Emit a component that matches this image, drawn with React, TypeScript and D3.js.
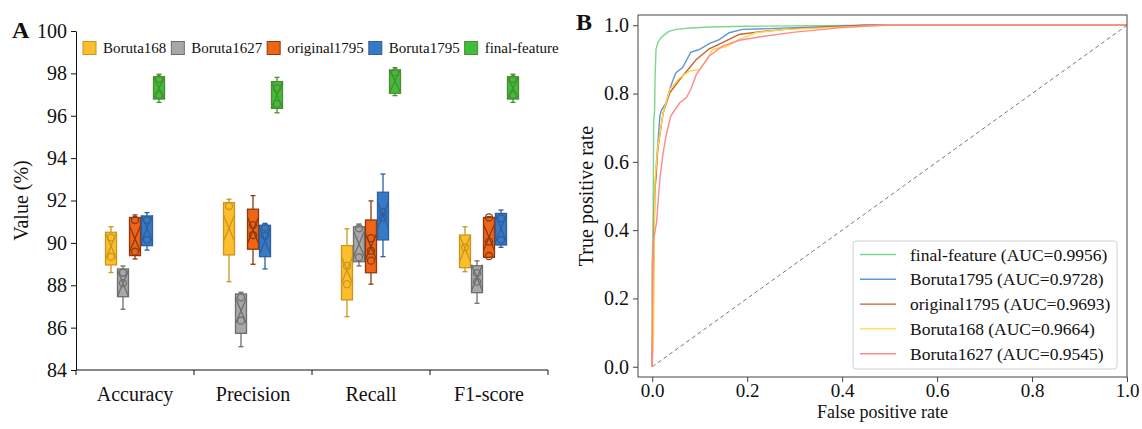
import { useEffect, useRef } from 'react';
import * as d3 from 'd3';

document.body.style.margin = '0';

const FONT = '"Liberation Serif", "Times New Roman", serif';
const W = 1142;
const H = 429;

// ---- Panel A data ----
const categories = ['Accuracy', 'Precision', 'Recall', 'F1-score'];
const groups = ['Boruta168', 'Boruta1627', 'original1795', 'Boruta1795', 'final-feature'];
const yTicksA = [84, 86, 88, 90, 92, 94, 96, 98, 100];

// [whiskerLow, q1, median, q3, whiskerHigh] per category
const boruta168Boxes = [
  [88.6, 88.96, 89.85, 90.5, 90.76],
  [88.17, 89.43, 90.69, 91.9, 92.06],
  [86.52, 87.31, 88.72, 89.87, 90.66],
  [88.64, 88.83, 89.74, 90.37, 90.76],
];
const boruta1627Boxes = [
  [86.87, 87.46, 88.09, 88.77, 88.91],
  [85.1, 85.73, 86.8, 87.59, 87.67],
  [88.91, 89.11, 89.95, 90.76, 90.89],
  [87.15, 87.65, 88.36, 88.92, 89.15],
];
const original1795Boxes = [
  [89.24, 89.4, 90.2, 91.2, 91.32],
  [88.99, 89.7, 90.6, 91.59, 92.23],
  [88.05, 88.59, 89.82, 91.08, 91.98],
  [89.32, 89.32, 90.26, 91.2, 91.24],
];
const boruta1795Boxes = [
  [89.66, 89.87, 90.69, 91.27, 91.43],
  [88.77, 89.35, 90.09, 90.83, 90.92],
  [89.35, 90.14, 91.32, 92.39, 93.25],
  [89.79, 89.9, 90.69, 91.39, 91.55],
];
const finalBoxes = [
  [96.63, 96.79, 97.3, 97.84, 97.96],
  [96.14, 96.35, 96.98, 97.61, 97.81],
  [96.95, 97.06, 97.64, 98.16, 98.27],
  [96.63, 96.79, 97.3, 97.84, 97.96],
];

// circles drawn inside the boxes
const boruta168Points = [[90.25, 89.35], [91.74], [88.91, 88.05], [89.79]];
const boruta1627Points = [[88.6, 88.1], [87.43, 86.33], [90.69, 89.32], [88.57, 88.17]];
const original1795Points = [[91.08, 89.58], [90.84, 90.37], [90.22, 89.63, 89.16], [91.2, 90.06, 89.38]];
const boruta1795Points = [[91.08, 90.14], [90.73, 90.33], [91.45, 91.2], [91.16, 90.14]];
const finalPoints = [[97.73, 96.98], [97.3, 96.56], [98.05], [97.73, 96.98]];

const boxData = [boruta168Boxes, boruta1627Boxes, original1795Boxes, boruta1795Boxes, finalBoxes];
const pointData = [boruta168Points, boruta1627Points, original1795Points, boruta1795Points, finalPoints];
const boxFill = ['#FDBE2C', '#A8A7A9', '#EF6417', '#3679C5', '#3DBE3D'];
const boxEdge = ['#C9961E', '#6E6E6E', '#8A3A10', '#2F5E9E', '#4E8A2E'];

// ---- Panel B data ----
const rocNames = [
  'final-feature (AUC=0.9956)',
  'Boruta1795 (AUC=0.9728)',
  'original1795 (AUC=0.9693)',
  'Boruta168 (AUC=0.9664)',
  'Boruta1627 (AUC=0.9545)',
];
const rocColors = ['#7ED68C', '#5B98D6', '#C8602E', '#FFD448', '#FF8A8A'];
const xTicksB = [0, 0.2, 0.4, 0.6, 0.8, 1.0];
const yTicksB = [0, 0.2, 0.4, 0.6, 0.8, 1.0];

const rocFinal: [number, number][] = [
  [0, 0], [0, 0.3], [0.002, 0.45], [0.003, 0.72], [0.005, 0.75], [0.006, 0.85], [0.008, 0.93],
  [0.012, 0.95], [0.018, 0.962], [0.025, 0.972], [0.035, 0.982], [0.05, 0.988], [0.08, 0.992],
  [0.12, 0.995], [0.2, 0.997], [0.35, 0.999], [0.45, 1], [1, 1],
];
const roc1795: [number, number][] = [
  [0, 0], [0.002, 0.22], [0.004, 0.4], [0.005, 0.5], [0.009, 0.6], [0.012, 0.656], [0.016, 0.734],
  [0.019, 0.75], [0.029, 0.773], [0.039, 0.822], [0.05, 0.861], [0.064, 0.876], [0.081, 0.921],
  [0.099, 0.929], [0.12, 0.946], [0.141, 0.958], [0.162, 0.978], [0.19, 0.988], [0.246, 0.99],
  [0.3, 0.993], [0.45, 1], [1, 1],
];
const rocOriginal: [number, number][] = [
  [0, 0], [0.002, 0.28], [0.004, 0.4], [0.005, 0.5], [0.012, 0.64], [0.023, 0.744], [0.037, 0.802],
  [0.058, 0.841], [0.076, 0.871], [0.093, 0.9], [0.12, 0.931], [0.148, 0.949], [0.183, 0.973],
  [0.232, 0.982], [0.3, 0.99], [0.45, 1], [1, 1],
];
const roc168: [number, number][] = [
  [0, 0], [0.003, 0.1], [0.004, 0.35], [0.006, 0.55], [0.012, 0.646], [0.023, 0.744], [0.037, 0.812],
  [0.058, 0.846], [0.079, 0.866], [0.099, 0.87], [0.116, 0.9], [0.127, 0.929], [0.155, 0.937],
  [0.183, 0.958], [0.218, 0.978], [0.281, 0.988], [0.5, 1], [1, 1],
];
const roc1627: [number, number][] = [
  [0, 0], [0, 0.276], [0.002, 0.364], [0.009, 0.422], [0.016, 0.549], [0.023, 0.627], [0.029, 0.676],
  [0.039, 0.734], [0.058, 0.773], [0.072, 0.788], [0.081, 0.812], [0.093, 0.856], [0.12, 0.91],
  [0.148, 0.939], [0.183, 0.956], [0.232, 0.967], [0.3, 0.98], [0.4, 0.993], [0.48, 1], [1, 1],
];
const rocData = [rocFinal, roc1795, rocOriginal, roc168, roc1627];

export default function App() {
  const svgRef = useRef<SVGSVGElement>(null);

  useEffect(() => {
    const svg = d3.select(svgRef.current);
    svg.selectAll('*').remove();
    svg.style('font-family', FONT);

    // ================= Panel A =================
    const x = d3.scaleBand().domain(categories).range([76, 548]).padding(0);
    const y = d3.scaleLinear().domain([84, 100]).range([370, 31]);
    const gA = svg.append('g');

    const yAxis = gA.append('g').attr('transform', 'translate(76,0)')
      .call(d3.axisLeft(y).tickValues(yTicksA).tickSize(5).tickPadding(4).tickSizeOuter(0));
    yAxis.selectAll('text').attr('font-size', 20).attr('font-family', FONT).attr('fill', '#111');
    yAxis.selectAll('line, path').attr('stroke', '#111');

    // x axis with ticks on band edges
    gA.append('line').attr('x1', 76).attr('x2', 548).attr('y1', y(84)).attr('y2', y(84)).attr('stroke', '#111');
    const edges = [...categories.map(c => x(c)!), x(categories[categories.length - 1])! + x.bandwidth()];
    gA.selectAll('.xt').data(edges).join('line')
      .attr('x1', d => d).attr('x2', d => d).attr('y1', y(84)).attr('y2', y(84) + 5).attr('stroke', '#111');
    gA.selectAll('.xl').data(categories).join('text')
      .attr('x', d => x(d)! + x.bandwidth() / 2).attr('y', y(84) + 31)
      .attr('text-anchor', 'middle').attr('font-size', 20).attr('fill', '#111').text(d => d);

    gA.append('text').attr('transform', `translate(28,${(y(84) + y(100)) / 2}) rotate(-90)`)
      .attr('text-anchor', 'middle').attr('font-size', 20).attr('fill', '#111').text('Value (%)');
    gA.append('text').attr('x', 12).attr('y', 38).attr('font-size', 24).attr('font-weight', 'bold')
      .attr('fill', '#111').text('A');

    const boxW = 11;
    const step = 12;
    groups.forEach((g, gi) => {
      categories.forEach((c, ci) => {
        const [lo, q1, med, q3, hi] = boxData[gi][ci];
        const cx = x(c)! + x.bandwidth() / 2 + (gi - 2) * step;
        const left = cx - boxW / 2;
        const right = cx + boxW / 2;
        const grp = gA.append('g');
        const edge = boxEdge[gi];
        // whiskers
        grp.append('line').attr('x1', cx).attr('x2', cx).attr('y1', y(q3)).attr('y2', y(hi)).attr('stroke', edge).attr('stroke-width', 1.3);
        grp.append('line').attr('x1', cx).attr('x2', cx).attr('y1', y(q1)).attr('y2', y(lo)).attr('stroke', edge).attr('stroke-width', 1.3);
        [lo, hi].forEach(v => grp.append('line').attr('x1', cx - 2.5).attr('x2', cx + 2.5)
          .attr('y1', y(v)).attr('y2', y(v)).attr('stroke', edge).attr('stroke-width', 1.3));
        // box
        grp.append('rect').attr('x', left).attr('y', y(q3)).attr('width', boxW).attr('height', y(q1) - y(q3))
          .attr('fill', boxFill[gi]).attr('stroke', edge).attr('stroke-width', 1.3);
        // notch cross
        const half = Math.min((y(q1) - y(q3)) / 2, 13);
        const ym = y(med);
        grp.append('path')
          .attr('d', `M${left},${ym - half}L${right},${ym + half}M${right},${ym - half}L${left},${ym + half}`)
          .attr('stroke', edge).attr('stroke-width', 1.3).attr('fill', 'none');
        // points
        pointData[gi][ci].forEach(v => grp.append('circle').attr('cx', cx).attr('cy', y(v)).attr('r', 3.5)
          .attr('fill', 'none').attr('stroke', edge).attr('stroke-width', 1.3));
      });
    });

    // legend A
    const legA = gA.append('g').attr('transform', 'translate(83,48)');
    let lx = 0;
    groups.forEach((g, gi) => {
      legA.append('rect').attr('x', lx).attr('y', -6.5).attr('width', 13).attr('height', 13)
        .attr('fill', boxFill[gi]).attr('stroke', boxEdge[gi]).attr('stroke-width', 1);
      const t = legA.append('text').attr('x', lx + 20).attr('y', 5).attr('font-size', 15).attr('fill', '#111').text(g);
      const tw = (t.node() as SVGTextElement).getComputedTextLength();
      lx += 20 + tw + 5;
    });

    // ================= Panel B =================
    const xb = d3.scaleLinear().domain([-0.03, 1.0]).range([638, 1127]);
    const yb = d3.scaleLinear().domain([-0.03, 1.03]).range([377, 15]);
    const gB = svg.append('g');

    gB.append('line').attr('x1', xb(0)).attr('y1', yb(0)).attr('x2', xb(1)).attr('y2', yb(1))
      .attr('stroke', '#777').attr('stroke-width', 1).attr('stroke-dasharray', '4,3');

    const line = d3.line<[number, number]>().x(d => xb(d[0])).y(d => yb(d[1]));
    rocData.forEach((pts, i) => {
      gB.append('path').datum(pts).attr('d', line).attr('fill', 'none')
        .attr('stroke', rocColors[i]).attr('stroke-width', 1.4);
    });

    gB.append('rect').attr('x', 638).attr('y', 15).attr('width', 1127 - 638).attr('height', 377 - 15)
      .attr('fill', 'none').attr('stroke', '#444').attr('stroke-width', 1);

    const xAxB = gB.append('g').attr('transform', 'translate(0,377)')
      .call(d3.axisBottom(xb).tickValues(xTicksB).tickFormat(d3.format('.1f')).tickSize(5).tickPadding(2));
    xAxB.select('.domain').remove();
    xAxB.selectAll('text').attr('font-size', 19).attr('font-family', FONT).attr('fill', '#111');
    xAxB.selectAll('line').attr('stroke', '#444');
    const yAxB = gB.append('g').attr('transform', 'translate(638,0)')
      .call(d3.axisLeft(yb).tickValues(yTicksB).tickFormat(d3.format('.1f')).tickSize(5).tickPadding(4));
    yAxB.select('.domain').remove();
    yAxB.selectAll('text').attr('font-size', 20).attr('font-family', FONT).attr('fill', '#111');
    yAxB.selectAll('line').attr('stroke', '#444');

    gB.append('text').attr('x', (638 + 1127) / 2).attr('y', 418).attr('text-anchor', 'middle')
      .attr('font-size', 18).attr('fill', '#111').text('False positive rate');
    gB.append('text').attr('transform', `translate(593,${(15 + 377) / 2}) rotate(-90)`)
      .attr('text-anchor', 'middle').attr('font-size', 20).attr('fill', '#111').text('True positive rate');
    gB.append('text').attr('x', 576).attr('y', 30).attr('font-size', 24).attr('font-weight', 'bold')
      .attr('fill', '#111').text('B');

    // legend B
    const legB = gB.append('g');
    legB.append('rect').attr('x', 853).attr('y', 241).attr('width', 264).attr('height', 128).attr('rx', 3)
      .attr('fill', 'white').attr('fill-opacity', 0.85).attr('stroke', '#d0d0d0');
    rocNames.forEach((n, i) => {
      const ly = 254.5 + i * 24.8;
      legB.append('line').attr('x1', 860).attr('x2', 896).attr('y1', ly).attr('y2', ly)
        .attr('stroke', rocColors[i]).attr('stroke-width', 1.4);
      legB.append('text').attr('x', 910).attr('y', ly + 6).attr('font-size', 17.5).attr('fill', '#111').text(n);
    });
  }, []);

  return <svg ref={svgRef} width={W} height={H} style={{ display: 'block', background: 'white' }} />;
}
